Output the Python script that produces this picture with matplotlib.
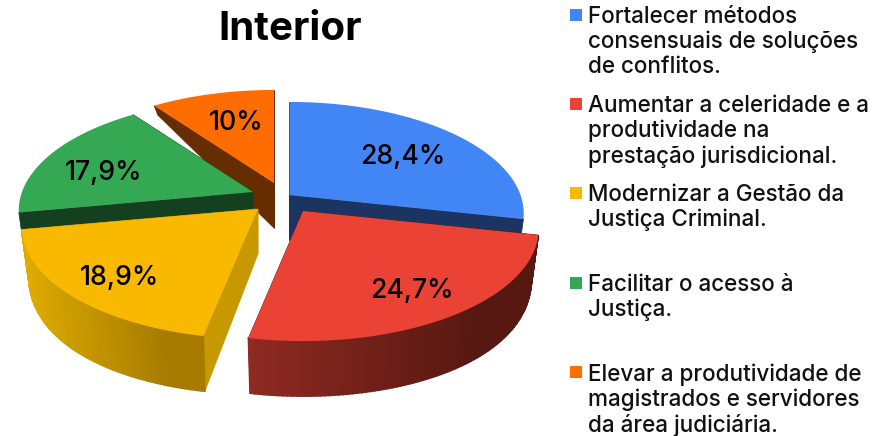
import numpy as np
import matplotlib
matplotlib.use('Agg')
import matplotlib.pyplot as plt
from matplotlib.colors import to_rgb

title = 'Interior'
valores = [28.4, 24.7, 18.9, 17.9, 10]
rotulos = ['28,4%', '24,7%', '18,9%', '17,9%', '10%']
legendas = ['Fortalecer métodos\nconsensuais de soluções\nde conflitos.',
            'Aumentar a celeridade e a\nprodutividade na\nprestação jurisdicional.',
            'Modernizar a Gestão da\nJustiça Criminal.',
            'Facilitar o acesso à\nJustiça.',
            'Elevar a produtividade de\nmagistrados e servidores\nda área judiciária.']
cores = ['#4285f4', '#ea4335', '#f8b900', '#34a853', '#ff6d01']
cores_corte = ['#1b3461', '#5a1913', '#c89800', '#154020', '#662e00']
# gradiente da lateral (esquerda, direita), so as fatias da frente tem lateral visivel
cores_lado = {1: ('#8f2a22', '#561811'), 2: ('#deac00', '#a67b00')}

# centro de cada fatia depois do "explode", em pixels
apice_x = [289.5, 303, 258, 253, 274]
apice_y = [195, 211, 209, 192, 183]
escala = [1, 1.005, 1.008, 1, 1]
# perspectiva do disco
RX, RY, K = 231, 108.5, 0.166
ESCALA_BASE = 0.97
ordem = [4, 3, 0, 2, 1]

legenda_y = [15, 104, 193, 283, 372]
rotulo_x = [403, 412, 119, 104, 236]
rotulo_y = [157, 291, 278, 173, 123]


def projetar(theta):
    u, v = np.sin(theta), -np.cos(theta)
    den = 1 - K * v
    return RX * u / den, RY * v / den, v


def altura(v):
    return np.clip(45 + 28.75 * v - 18.75 * v ** 2, 0, None)


fig = plt.figure(figsize=(8.79, 4.36), dpi=100)
ax = fig.add_axes([0, 0, 1, 1])
ax.set_xlim(0, 879)
ax.set_ylim(436, 0)
ax.axis('off')
plt.rcParams['font.family'] = ['Inter', 'DejaVu Sans']

limites = np.concatenate([[0], np.cumsum(valores)]) / sum(valores) * 2 * np.pi

for n, i in enumerate(ordem):
    ax0, ay0 = apice_x[i], apice_y[i]
    th = np.linspace(limites[i], limites[i + 1], 90)
    x, y, v = projetar(th)
    x = x * escala[i]
    d = altura(v)

    # faces do corte (do centro ate a borda)
    h0 = altura(0.0)
    for k in (0, -1):
        ax.fill([ax0, ax0 + x[k], ax0 + x[k] * ESCALA_BASE, ax0],
                [ay0, ay0 + y[k], ay0 + y[k] + d[k], ay0 + h0],
                color=cores_corte[i], lw=0.5, zorder=n * 3 + 1)

    # lateral externa com gradiente horizontal
    if i in cores_lado:
        c0, c1 = np.array(to_rgb(cores_lado[i][0])), np.array(to_rgb(cores_lado[i][1]))
        xmin, xmax = x.min(), x.max()
        for j in range(len(th) - 1):
            t = (x[j] - xmin) / max(xmax - xmin, 1)
            cor = c0 + (c1 - c0) * min(t * 1.25, 1)
            ax.fill([ax0 + x[j], ax0 + x[j + 1], ax0 + x[j + 1] * ESCALA_BASE, ax0 + x[j] * ESCALA_BASE],
                    [ay0 + y[j], ay0 + y[j + 1], ay0 + y[j + 1] + d[j + 1], ay0 + y[j] + d[j]],
                    color=cor, lw=1.2, zorder=n * 3 + 1)

    # topo da fatia
    ax.fill(np.r_[ax0, ax0 + x], np.r_[ay0, ay0 + y], color=cores[i], lw=0, zorder=n * 3 + 2)
    ax.text(rotulo_x[i], rotulo_y[i], rotulos[i], fontsize=19.2, fontweight=500, color='black',
            ha='center', va='center', zorder=30)

ax.text(290, 29, title, fontsize=29, fontweight='bold', ha='center', va='center')

for i, texto in enumerate(legendas):
    ax.scatter([576], [legenda_y[i]], marker='s', s=75, color=cores[i], linewidths=0)
    ax.text(588, legenda_y[i] - 9, texto, fontsize=16.2, fontweight=500, color='#111111',
            ha='left', va='top', linespacing=1.17)

plt.savefig('out.png', dpi=100)
plt.close()
